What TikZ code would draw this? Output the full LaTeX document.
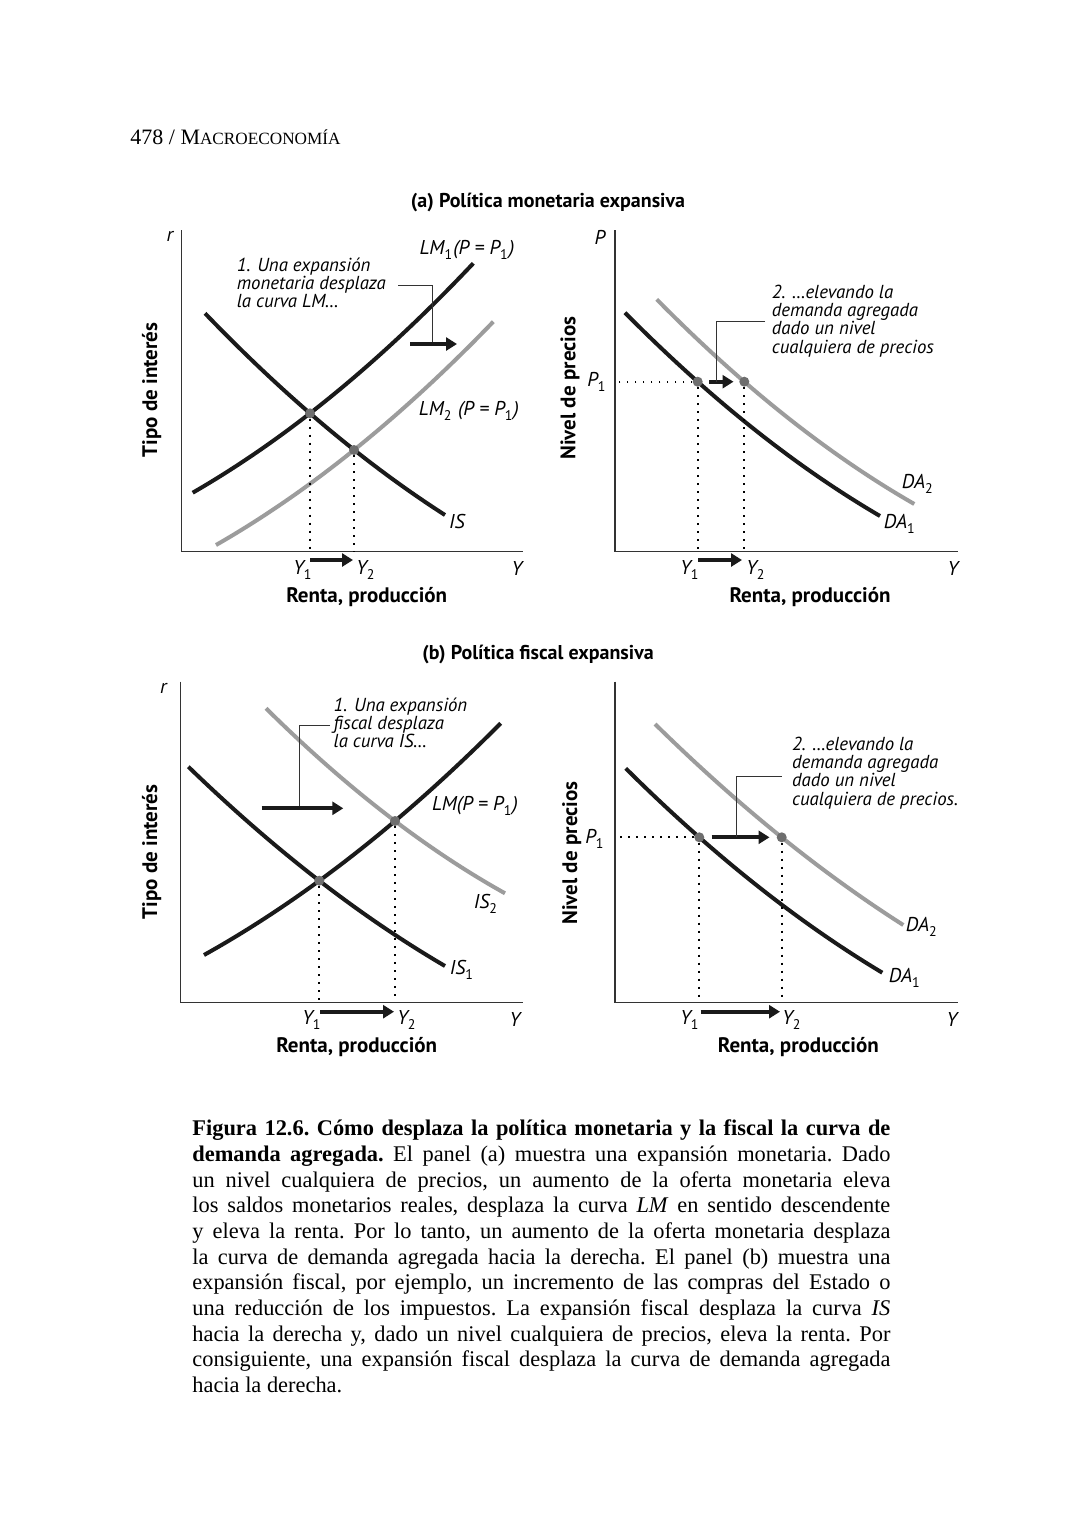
\documentclass[tikz,border=0pt]{standalone}
\usepackage{fontspec}
\setmainfont{Liberation Serif}
\setsansfont{PT Sans}
\usetikzlibrary{arrows.meta}
\definecolor{curvegray}{HTML}{9C9C9C}
\definecolor{dotgray}{HTML}{6E6E6E}
\definecolor{axisgray}{HTML}{333333}
\definecolor{inkblack}{HTML}{1A1A1A}
\newcommand{\sub}[1]{\raisebox{-0.5ex}{\fontsize{7}{7}\selectfont\upshape #1}\kern0.6pt\relax}
\begin{document}
\begin{tikzpicture}[x=0.5pt,y=-0.5pt,
 axisline/.style={draw=axisgray,line width=0.7pt},
 blackcurve/.style={draw=inkblack,line width=2pt},
 graycurve/.style={draw=curvegray,line width=2pt},
 guide/.style={draw=black,line width=0.9pt,dash pattern=on 0.9pt off 3.1pt},
 shiftarrow/.style={draw=inkblack,line width=2pt,-{Triangle[length=5.5pt,width=6.5pt]}},
 leader/.style={draw=black!80,line width=0.5pt},
 eqdot/.style={circle,fill=dotgray,inner sep=0pt,minimum size=5pt},
 lbl/.style={font=\sffamily\itshape\fontsize{10}{10}\selectfont,inner sep=0pt},
 axtitle/.style={font=\sffamily\bfseries\fontsize{10.5}{11}\selectfont,inner sep=0pt},
 paneltitle/.style={font=\sffamily\bfseries\fontsize{10}{11}\selectfont,inner sep=0pt},
 note/.style={font=\sffamily\itshape\fontsize{9.4}{9.15}\selectfont,align=left,inner sep=0pt},
]
\fill[white] (0,0) rectangle (1080,1523);
\path[use as bounding box] (0,0) rectangle (1080,1523);

% header
\node[anchor=base west,inner sep=0pt,font=\fontsize{11}{12}\selectfont] (hdr) at (130,144) {478 / M{\fontsize{8.6}{10}\selectfont ACROECONOMÍA}};

% ================= PANEL (a) =================
\node[paneltitle] (titleA) at (548,202) {(a) Política monetaria expansiva};

% --- top-left: IS-LM ---
\coordinate (TLo) at (181.7,551.7);
\coordinate (TLtop) at (181.7,230);
\coordinate (TLend) at (523,551.7);
\draw[axisline] (TLtop) -- (TLo) -- (TLend);
\node[lbl] (TLr) at (170,236) {r};
\node[axtitle,rotate=90] (TLyt) at (151.7,390) {Tipo de interés};
\node[axtitle] (TLxt) at (366.7,597) {Renta, producción};
\node[lbl] (TLY) at (517,568) {Y};

\draw[blackcurve] plot[domain=205:445,samples=60] (\x,{413.3+86.53*((\x-310)/100)-8.294*((\x-310)/100)^2});
\draw[blackcurve] plot[domain=192.7:473.3,samples=60] (\x,{413.3-77.79*((\x-310)/100)-8.61*((\x-310)/100)^2});
\draw[graycurve] plot[domain=216:493.3,samples=60] (\x,{450-80.42*((\x-354)/100)-8.388*((\x-354)/100)^2});

\node[eqdot] (TLe1) at (310,413.3) {};
\node[eqdot] (TLe2) at (354,450) {};
\draw[guide] (TLe1) -- (TLe1 |- TLo);
\draw[guide] (TLe2) -- (TLe2 |- TLo);

\node[lbl] (TLy1) at (303,570) {Y\sub{1}};
\node[lbl] (TLy2) at (366,570) {Y\sub{2}};
\coordinate (TLa1) at (310,560);
\coordinate (TLa2) at (353,560);
\draw[shiftarrow] (TLa1) -- (TLa2);

\node[lbl] (TLlm1) at (467,250) {LM\sub{1}(P = P\sub{1})};
\node[lbl] (TLlm2) at (469,411) {LM\sub{2} (P = P\sub{1})};
\node[lbl] (TLis) at (457,521) {IS};

\node[note,anchor=west] (TLnote) at (236.5,283) {1. Una expansión\\monetaria desplaza\\la curva LM…};
\coordinate (TLl1) at (398.3,285);
\coordinate (TLl2) at (432.7,285);
\coordinate (TLs1) at (410,344);
\coordinate (TLs2) at (457,344);
\coordinate (TLl3) at (432.7,344);
\draw[leader] (TLl1) -- (TLl2) -- (TLl3);
\draw[shiftarrow] (TLs1) -- (TLs2);

% --- top-right: DA ---
\coordinate (TRo) at (615,551.7);
\coordinate (TRtop) at (615,230);
\coordinate (TRend) at (958.3,551.7);
\draw[axisline] (TRtop) -- (TRo) -- (TRend);
\node[lbl] (TRP) at (600,237) {P};
\node[axtitle,rotate=90] (TRyt) at (570,388) {Nivel de precios};
\node[axtitle] (TRxt) at (810,597) {Renta, producción};
\node[lbl] (TRY) at (953,568) {Y};

\draw[blackcurve] plot[domain=625:880,samples=60] (\x,{381.7+88.85*((\x-697.7)/100)-8.33*((\x-697.7)/100)^2});
\draw[graycurve] plot[domain=656.7:914.3,samples=60] (\x,{381.7+86.54*((\x-744.3)/100)-8.587*((\x-744.3)/100)^2});

\node[eqdot] (TRe1) at (697.7,381.7) {};
\node[eqdot] (TRe2) at (744.3,381.7) {};
\draw[guide] (TRe1) -- (TRe1 -| TRo);
\draw[guide] (TRe1) -- (TRe1 |- TRo);
\draw[guide] (TRe2) -- (TRe2 |- TRo);
\node[lbl] (TRp1) at (597,382) {P\sub{1}};

\coordinate (TRs1) at (709,381.7);
\coordinate (TRs2) at (733.5,381.7);
\draw[shiftarrow] (TRs1) -- (TRs2);
\node[note,anchor=west] (TRnote) at (771.5,321) {2. …elevando la\\demanda agregada\\dado un nivel\\cualquiera de precios};
\coordinate (TRl1) at (765,321);
\coordinate (TRl2) at (716.7,321);
\coordinate (TRl3) at (716.7,381.7);
\draw[leader] (TRl1) -- (TRl2) -- (TRl3);

\node[lbl] (TRda2) at (918,484) {DA\sub{2}};
\node[lbl] (TRda1) at (900,524) {DA\sub{1}};
\node[lbl] (TRy1) at (690,570) {Y\sub{1}};
\node[lbl] (TRy2) at (756,570) {Y\sub{2}};
\coordinate (TRa1) at (698,560);
\coordinate (TRa2) at (742,560);
\draw[shiftarrow] (TRa1) -- (TRa2);

% ================= PANEL (b) =================
\node[paneltitle] (titleB) at (538,654) {(b) Política fiscal expansiva};

% --- bottom-left ---
\coordinate (BLo) at (180.7,1002.3);
\coordinate (BLtop) at (180.7,681.7);
\coordinate (BLend) at (523.3,1002.3);
\draw[axisline] (BLtop) -- (BLo) -- (BLend);
\node[lbl] (BLr) at (163.3,688.5) {r};
\node[axtitle,rotate=90] (BLyt) at (151.7,852) {Tipo de interés};
\node[axtitle] (BLxt) at (356.7,1046.7) {Renta, producción};
\node[lbl] (BLY) at (515,1019) {Y};

\draw[blackcurve] plot[domain=188.3:445,samples=60] (\x,{880.7+77.24*((\x-319.3)/100)-7.464*((\x-319.3)/100)^2});
\draw[blackcurve] plot[domain=204:500.7,samples=60] (\x,{880.7-73.12*((\x-319.3)/100)-7.526*((\x-319.3)/100)^2});
\draw[graycurve] plot[domain=266:505,samples=60] (\x,{821.0+75.69*((\x-395)/100)-9.05*((\x-395)/100)^2});

\node[eqdot] (BLe1) at (319.3,880.7) {};
\node[eqdot] (BLe2) at (395,821.0) {};
\draw[guide] (BLe1) -- (BLe1 |- BLo);
\draw[guide] (BLe2) -- (BLe2 |- BLo);

\node[lbl] (BLlm) at (475,806) {LM(P = P\sub{1})};
\node[lbl] (BLis2) at (486,904) {IS\sub{2}};
\node[lbl] (BLis1) at (462,970) {IS\sub{1}};

\node[note,anchor=west] (BLnote) at (333.3,723) {1. Una expansión\\fiscal desplaza\\la curva IS…};
\coordinate (BLl1) at (330,725);
\coordinate (BLl2) at (299.3,725);
\coordinate (BLl3) at (299.3,808.3);
\coordinate (BLs1) at (261.7,808.3);
\coordinate (BLs2) at (343.3,808.3);
\draw[leader] (BLl1) -- (BLl2) -- (BLl3);
\draw[shiftarrow] (BLs1) -- (BLs2);

\node[lbl] (BLy1) at (312,1020) {Y\sub{1}};
\node[lbl] (BLy2) at (407,1020) {Y\sub{2}};
\coordinate (BLa1) at (320,1011.7);
\coordinate (BLa2) at (394,1011.7);
\draw[shiftarrow] (BLa1) -- (BLa2);

% --- bottom-right ---
\coordinate (BRo) at (615,1002.3);
\coordinate (BRtop) at (615,681.7);
\coordinate (BRend) at (958.3,1002.3);
\draw[axisline] (BRtop) -- (BRo) -- (BRend);
\node[axtitle,rotate=90] (BRyt) at (571.7,853) {Nivel de precios};
\node[axtitle] (BRxt) at (798.3,1046.7) {Renta, producción};
\node[lbl] (BRY) at (952,1019) {Y};

\draw[blackcurve] plot[domain=625.7:882.3,samples=60] (\x,{837.3+88.08*((\x-699.3)/100)-7.70*((\x-699.3)/100)^2});
\draw[graycurve] plot[domain=655:903.3,samples=60] (\x,{837.3+80.59*((\x-781.7)/100)-6.967*((\x-781.7)/100)^2});

\node[eqdot] (BRe1) at (699.3,837.3) {};
\node[eqdot] (BRe2) at (781.7,837.3) {};
\draw[guide] (BRe1) -- (BRe1 -| BRo);
\draw[guide] (BRe1) -- (BRe1 |- BRo);
\draw[guide] (BRe2) -- (BRe2 |- BRo);
\node[lbl] (BRp1) at (595,839) {P\sub{1}};

\coordinate (BRs1) at (711.7,837.3);
\coordinate (BRs2) at (769.5,837.3);
\draw[shiftarrow] (BRs1) -- (BRs2);
\node[note,anchor=west] (BRnote) at (791.7,773) {2. …elevando la\\demanda agregada\\dado un nivel\\cualquiera de precios.};
\coordinate (BRl1) at (781.7,776);
\coordinate (BRl2) at (736.7,776);
\coordinate (BRl3) at (736.7,837.3);
\draw[leader] (BRl1) -- (BRl2) -- (BRl3);

\node[lbl] (BRda2) at (922,927) {DA\sub{2}};
\node[lbl] (BRda1) at (905,978) {DA\sub{1}};
\node[lbl] (BRy1) at (690,1020) {Y\sub{1}};
\node[lbl] (BRy2) at (792,1020) {Y\sub{2}};
\coordinate (BRa1) at (700.7,1011.7);
\coordinate (BRa2) at (780,1011.7);
\draw[shiftarrow] (BRa1) -- (BRa2);

% ================= CAPTION =================
\node[anchor=north west,inner sep=0pt,text width=349pt,align=justify,
      font=\fontsize{11.2}{12.85}\selectfont] (caption) at (192,1119.5)
{\frenchspacing\tolerance=10000\hyphenpenalty=10000\emergencystretch=20pt
\textbf{Figura 12.6. Cómo desplaza la política monetaria y la fiscal la curva de}\linebreak
\textbf{demanda agregada.} El panel (a) muestra una expansión monetaria. Dado\linebreak
un nivel cualquiera de precios, un aumento de la oferta monetaria eleva\linebreak
los saldos monetarios reales, desplaza la curva \textit{LM} en sentido descendente\linebreak
y eleva la renta. Por lo tanto, un aumento de la oferta monetaria desplaza\linebreak
la curva de demanda agregada hacia la derecha. El panel (b) muestra una\linebreak
expansión fiscal, por ejemplo, un incremento de las compras del Estado o\linebreak
una reducción de los impuestos. La expansión fiscal desplaza la curva \textit{IS}\linebreak
hacia la derecha y, dado un nivel cualquiera de precios, eleva la renta. Por\linebreak
consiguiente, una expansión fiscal desplaza la curva de demanda agregada\linebreak
hacia la derecha.};
\end{tikzpicture}
\end{document}
